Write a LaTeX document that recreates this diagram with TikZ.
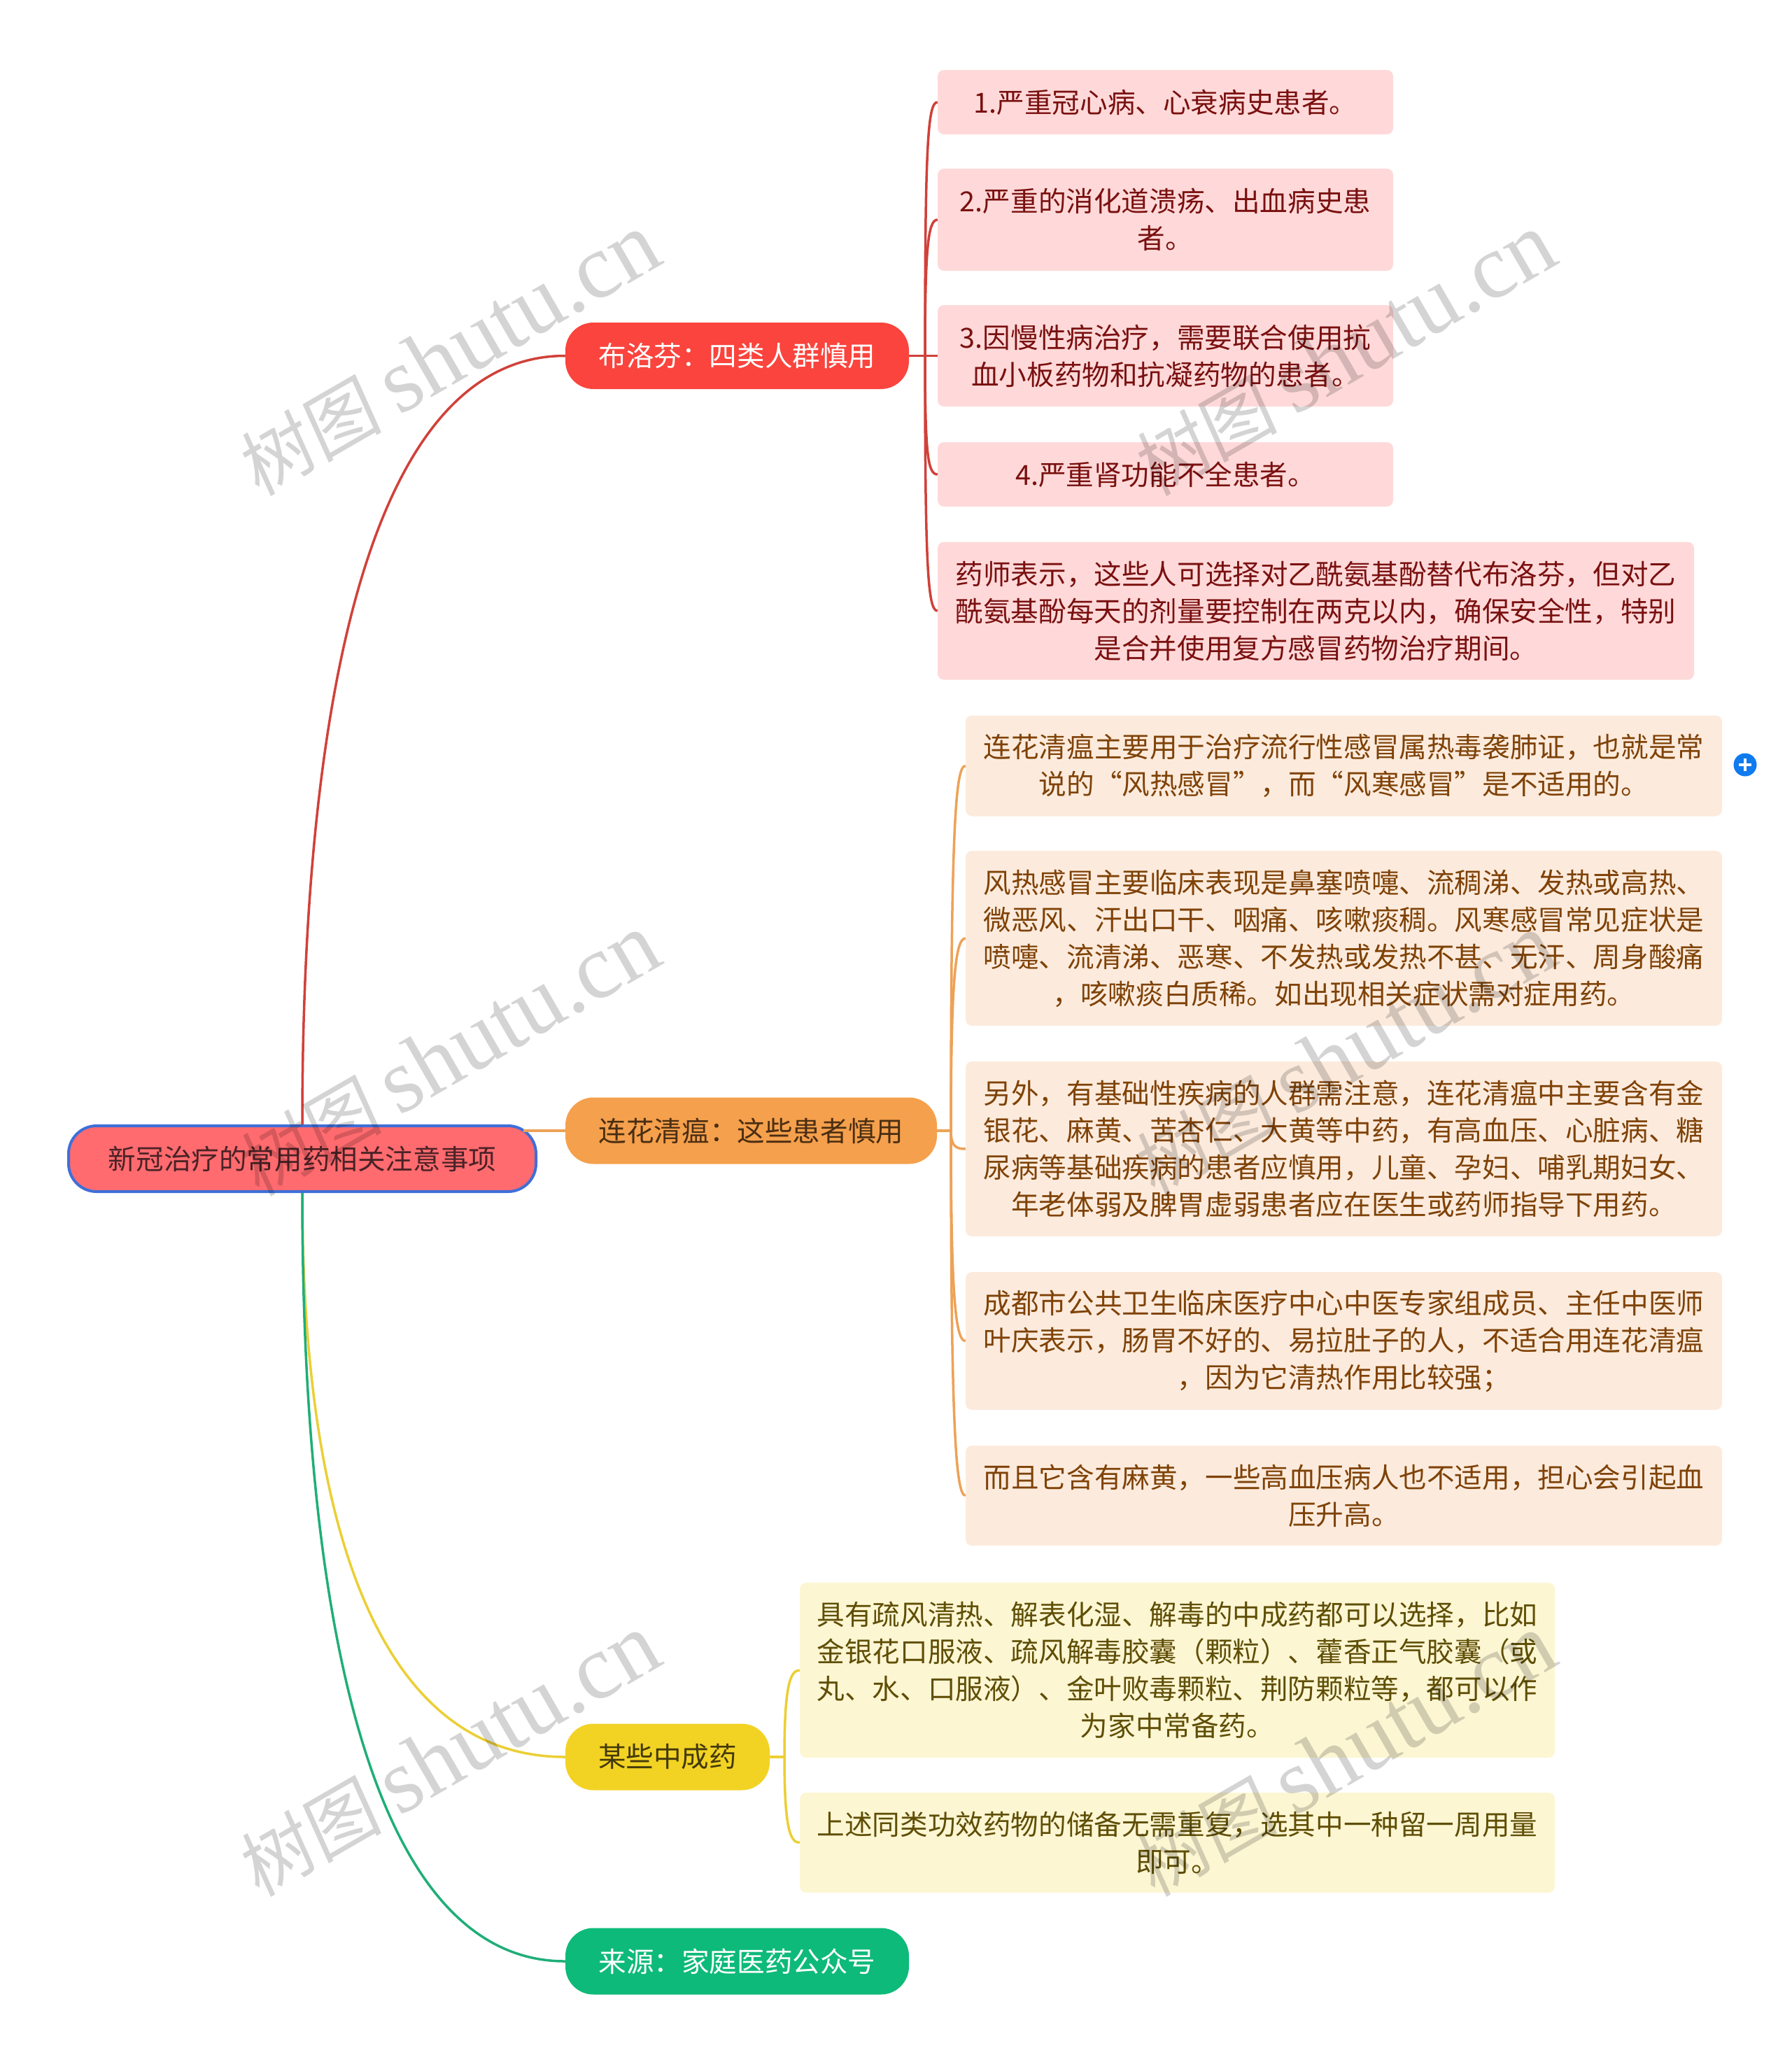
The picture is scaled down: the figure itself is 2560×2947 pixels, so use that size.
\documentclass[tikz,border=0pt]{standalone}
\usepackage{fontspec}
\setmainfont{Noto Sans CJK SC}
\newfontfamily\wmlatin{Liberation Serif}
\newfontfamily\wmcjk[FakeSlant=0.1]{Noto Sans CJK SC}
\newcommand{\wmtext}{{\wmcjk\fontsize{104}{104}\selectfont 树图}\hspace{24pt}{\wmlatin\fontsize{131}{131}\selectfont shutu.cn}}
\definecolor{cblue}{HTML}{3F6FD8}
\definecolor{croot}{HTML}{FF6B6F}
\definecolor{ctroot}{HTML}{4A2226}
\definecolor{cred}{HTML}{FA443D}
\definecolor{lred}{HTML}{D0413A}
\definecolor{fred}{HTML}{FFD9D9}
\definecolor{tred}{HTML}{7A1010}
\definecolor{corg}{HTML}{F5A04D}
\definecolor{lorg}{HTML}{EDA258}
\definecolor{forg}{HTML}{FCEBDD}
\definecolor{torg}{HTML}{7F4207}
\definecolor{tborg}{HTML}{4A2E12}
\definecolor{cyel}{HTML}{F2D324}
\definecolor{lyel}{HTML}{EBCF35}
\definecolor{fyel}{HTML}{FCF6D3}
\definecolor{tyel}{HTML}{5F4E05}
\definecolor{tbyel}{HTML}{44390A}
\definecolor{cgrn}{HTML}{0DBA79}
\definecolor{lgrn}{HTML}{1FAE78}
\definecolor{cplus}{HTML}{0F7BEF}
\tikzset{
  txt/.style={font=\fontsize{39.6}{53}\selectfont, align=center, inner sep=0pt},
  pill/.style={txt, rounded corners=40, minimum width=#1, minimum height=95},
  leaf/.style={txt, rounded corners=9},
  wmark/.style={text=black, text opacity=.17, rotate=30, inner sep=0pt},
  link/.style={line width=3.5pt}
}
\begin{document}
\begin{tikzpicture}[x=1pt,y=-1pt]
\useasboundingbox (0,0) rectangle (2560,2947);
\node[pill=668, fill=croot, draw=cblue, line width=4pt, text=ctroot, minimum height=94] (root) at (432,1656){新冠治疗的常用药相关注意事项};
\node[pill=491, fill=cred, text=white] (bid0) at (1053.5,508.5){布洛芬：四类人群慎用};
\node[pill=531, fill=corg, text=tborg] (bid1) at (1073.5,1616){连花清瘟：这些患者慎用};
\node[pill=292, fill=cyel, text=tbyel] (bid2) at (954,2511){某些中成药};
\node[pill=491, fill=cgrn, text=white] (bid3) at (1053.5,2803){来源：家庭医药公众号};
\node[leaf, fill=fred, text=tred, minimum width=651, minimum height=92] (lid0) at (1665.5,146){1.严重冠心病、心衰病史患者。};
\node[leaf, fill=fred, text=tred, minimum width=651, minimum height=146] (lid1) at (1665.5,314){2.严重的消化道溃疡、出血病史患\\者。};
\node[leaf, fill=fred, text=tred, minimum width=651, minimum height=145] (lid2) at (1665.5,508.5){3.因慢性病治疗，需要联合使用抗\\血小板药物和抗凝药物的患者。};
\node[leaf, fill=fred, text=tred, minimum width=651, minimum height=92] (lid3) at (1665.5,678){4.严重肾功能不全患者。};
\node[leaf, fill=fred, text=tred, minimum width=1081, minimum height=197] (lid4) at (1880.5,873){药师表示，这些人可选择对乙酰氨基酚替代布洛芬，但对乙\\酰氨基酚每天的剂量要控制在两克以内，确保安全性，特别\\是合并使用复方感冒药物治疗期间。};
\node[leaf, fill=forg, text=torg, minimum width=1081, minimum height=144] (lid5) at (1920.5,1094.5){连花清瘟主要用于治疗流行性感冒属热毒袭肺证，也就是常\\说的“风热感冒”，而“风寒感冒”是不适用的。};
\node[leaf, fill=forg, text=torg, minimum width=1081, minimum height=250] (lid6) at (1920.5,1341){风热感冒主要临床表现是鼻塞喷嚏、流稠涕、发热或高热、\\微恶风、汗出口干、咽痛、咳嗽痰稠。风寒感冒常见症状是\\喷嚏、流清涕、恶寒、不发热或发热不甚、无汗、周身酸痛\\，咳嗽痰白质稀。如出现相关症状需对症用药。};
\node[leaf, fill=forg, text=torg, minimum width=1081, minimum height=250] (lid7) at (1920.5,1642){另外，有基础性疾病的人群需注意，连花清瘟中主要含有金\\银花、麻黄、苦杏仁、大黄等中药，有高血压、心脏病、糖\\尿病等基础疾病的患者应慎用，儿童、孕妇、哺乳期妇女、\\年老体弱及脾胃虚弱患者应在医生或药师指导下用药。};
\node[leaf, fill=forg, text=torg, minimum width=1081, minimum height=197] (lid8) at (1920.5,1916.5){成都市公共卫生临床医疗中心中医专家组成员、主任中医师\\叶庆表示，肠胃不好的、易拉肚子的人，不适合用连花清瘟\\，因为它清热作用比较强；};
\node[leaf, fill=forg, text=torg, minimum width=1081, minimum height=143] (lid9) at (1920.5,2137.5){而且它含有麻黄，一些高血压病人也不适用，担心会引起血\\压升高。};
\node[leaf, fill=fyel, text=tyel, minimum width=1079, minimum height=250] (lid10) at (1682.5,2387){具有疏风清热、解表化湿、解毒的中成药都可以选择，比如\\金银花口服液、疏风解毒胶囊（颗粒）、藿香正气胶囊（或\\丸、水、口服液）、金叶败毒颗粒、荆防颗粒等，都可以作\\为家中常备药。};
\node[leaf, fill=fyel, text=tyel, minimum width=1079, minimum height=143] (lid11) at (1682.5,2633.5){上述同类功效药物的储备无需重复，选其中一种留一周用量\\即可。};
\node[circle, fill=cplus, minimum size=33, inner sep=0pt] (plus) at (2494,1093){};
\draw[white, line width=4pt] ([xshift=-9]plus.center) -- ([xshift=9]plus.center);
\draw[white, line width=4pt] ([yshift=-9]plus.center) -- ([yshift=9]plus.center);
\coordinate (jid0) at (1322,508.5);
\coordinate (jid1) at (1359,1616);
\coordinate (jid2) at (1121,2511);
\draw[link, lred](root.north) .. controls +(0,-609) and +(-278,0) .. (bid0.west);
\draw[link, lorg]([xshift=-20,yshift=-9]root.north east) -- (bid1.west);
\draw[link, lyel](root.south) .. controls +(0,447) and +(-278,0) .. (bid2.west);
\draw[link, lgrn](root.south) .. controls +(0,609) and +(-278,0) .. (bid3.west);
\draw[link, lred](bid0.east) -- (lid2.west);
\draw[link, lred](jid0) .. controls +(0,-300) and +(-14,0) .. (lid0.west);
\draw[link, lred](jid0) .. controls +(0,-150) and +(-14,0) .. (lid1.west);
\draw[link, lred](jid0) .. controls +(0,140) and +(-14,0) .. (lid3.west);
\draw[link, lred](jid0) .. controls +(0,300) and +(-14,0) .. (lid4.west);
\draw[link, lorg](bid1.east) -- (jid1);
\draw[link, lorg](jid1) .. controls +(0,-440) and +(-14,0) .. (lid5.west);
\draw[link, lorg](jid1) .. controls +(0,-220) and +(-14,0) .. (lid6.west);
\draw[link, lorg](jid1) .. controls +(0,22) and +(-14,0) .. (lid7.west);
\draw[link, lorg](jid1) .. controls +(0,240) and +(-14,0) .. (lid8.west);
\draw[link, lorg](jid1) .. controls +(0,420) and +(-14,0) .. (lid9.west);
\draw[link, lyel](bid2.east) -- (jid2);
\draw[link, lyel](jid2) .. controls +(0,-100) and +(-14,0) .. (lid10.west);
\draw[link, lyel](jid2) .. controls +(0,100) and +(-14,0) .. (lid11.west);
\node[wmark] (wid0) at (640,507){\wmtext};
\node[wmark] (wid1) at (640,1508){\wmtext};
\node[wmark] (wid2) at (640,2509){\wmtext};
\node[wmark] (wid3) at (1920,507){\wmtext};
\node[wmark] (wid4) at (1920,1508){\wmtext};
\node[wmark] (wid5) at (1920,2509){\wmtext};
\end{tikzpicture}
\end{document}
